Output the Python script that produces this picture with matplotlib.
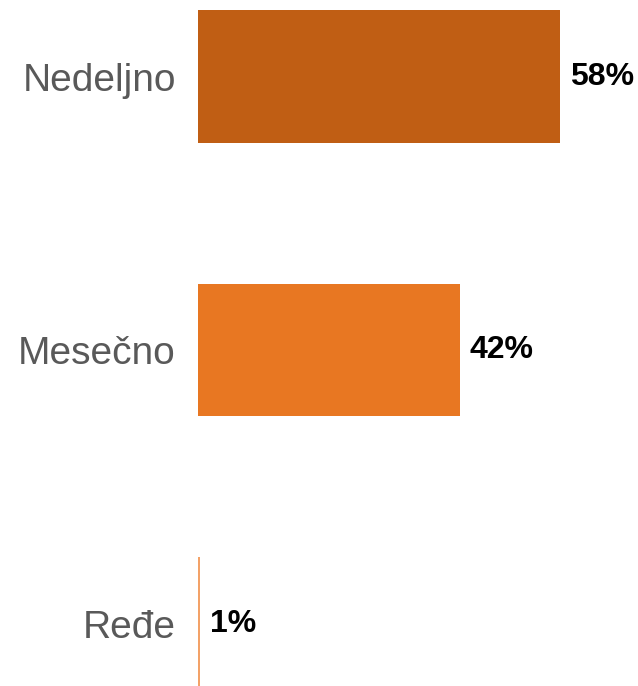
import matplotlib.pyplot as plt

categories = ['Nedeljno', 'Mesečno', 'Ređe']
values = [58, 42, 0.4]
value_labels = ['58%', '42%', '1%']
colors = ['#C05E14', '#E87722', '#F3A268']

plt.rcParams['font.family'] = ['Liberation Sans', 'DejaVu Sans']

fig = plt.figure(figsize=(6.38, 6.86), dpi=100)
ax = fig.add_axes([198 / 638, 0, 1 - 198 / 638, 1])

pos = list(range(len(categories)))
ax.barh(pos, values, height=0.485, color=colors)
ax.set_xlim(0, 70.5)
ax.set_ylim(2.228, -0.28)

for p, v, lab in zip(pos, values, value_labels):
    ax.annotate(lab, (v, p), xytext=(7, 0), textcoords='offset points',
                ha='left', va='center', fontsize=23, fontweight='bold',
                color='black')

ax.set_yticks(pos)
ax.set_yticklabels(categories, fontsize=28, color='#595959')
ax.tick_params(axis='y', length=0, pad=16)
ax.set_xticks([])
for s in ax.spines.values():
    s.set_visible(False)

fig.savefig('out.png', dpi=100)
